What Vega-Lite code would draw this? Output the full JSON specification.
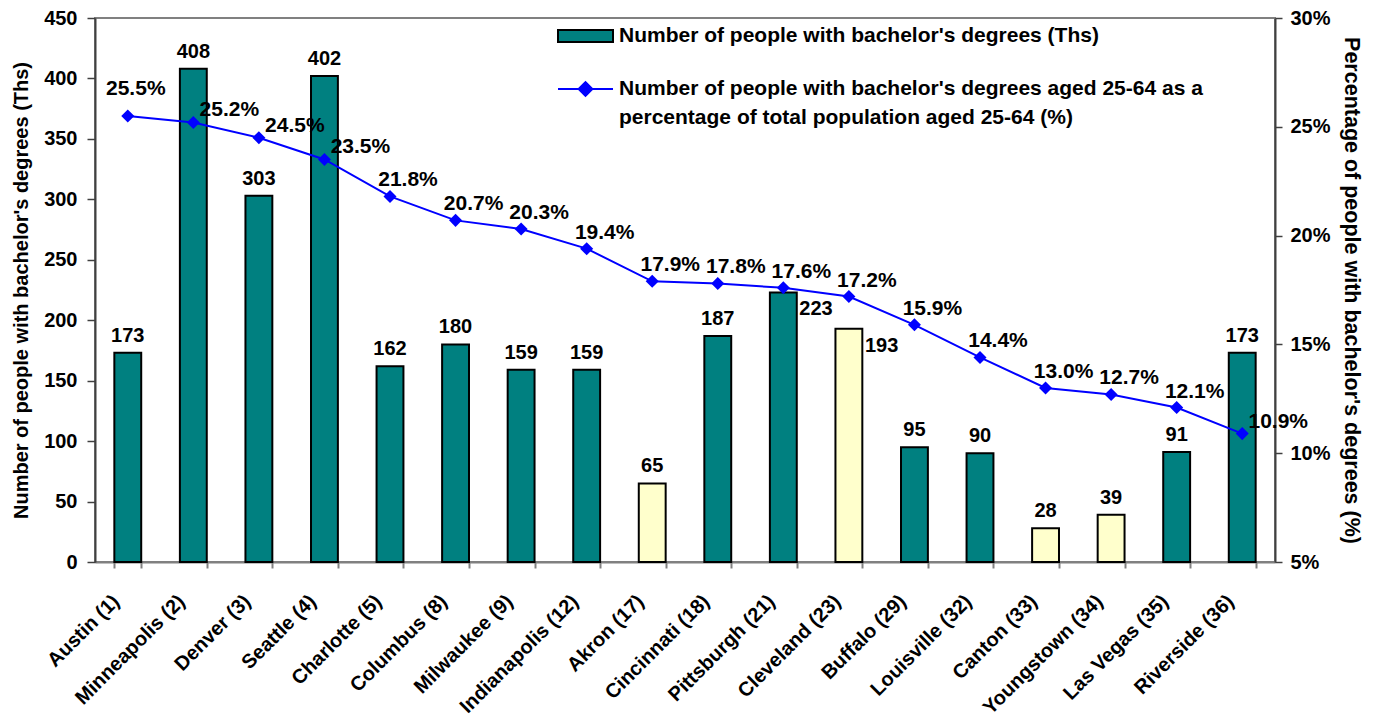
{
  "$schema": "https://vega.github.io/schema/vega-lite/v6.json",
  "width": 1180,
  "height": 544,
  "autosize": {"type": "none"},
  "padding": {"left": 95, "top": 18, "right": 100, "bottom": 157},
  "background": "white",
  "config": {
    "font": "Liberation Sans",
    "view": {"stroke": "#808080", "strokeWidth": 2},
    "axis": {
      "labelFont": "Liberation Sans",
      "labelFontWeight": "bold",
      "labelFontSize": 20,
      "labelColor": "black",
      "titleFont": "Liberation Sans",
      "titleFontWeight": "bold",
      "titleFontSize": 20,
      "titleColor": "black",
      "grid": false
    },
    "legend": {
      "labelFont": "Liberation Sans",
      "labelFontWeight": "bold",
      "labelFontSize": 21,
      "labelColor": "black",
      "labelLimit": 900,
      "padding": 0
    }
  },
  "data": {
    "values": [
      {"city": "Austin (1)", "bachelors": 173, "pct": 0.255, "highlight": "no"},
      {"city": "Minneapolis (2)", "bachelors": 408, "pct": 0.252, "highlight": "no"},
      {"city": "Denver (3)", "bachelors": 303, "pct": 0.245, "highlight": "no"},
      {"city": "Seattle (4)", "bachelors": 402, "pct": 0.235, "highlight": "no"},
      {"city": "Charlotte (5)", "bachelors": 162, "pct": 0.218, "highlight": "no"},
      {"city": "Columbus (8)", "bachelors": 180, "pct": 0.207, "highlight": "no"},
      {"city": "Milwaukee (9)", "bachelors": 159, "pct": 0.203, "highlight": "no"},
      {"city": "Indianapolis (12)", "bachelors": 159, "pct": 0.194, "highlight": "no"},
      {"city": "Akron (17)", "bachelors": 65, "pct": 0.179, "highlight": "yes"},
      {"city": "Cincinnati (18)", "bachelors": 187, "pct": 0.178, "highlight": "no"},
      {"city": "Pittsburgh (21)", "bachelors": 223, "pct": 0.176, "highlight": "no"},
      {"city": "Cleveland (23)", "bachelors": 193, "pct": 0.172, "highlight": "yes"},
      {"city": "Buffalo (29)", "bachelors": 95, "pct": 0.159, "highlight": "no"},
      {"city": "Louisville (32)", "bachelors": 90, "pct": 0.144, "highlight": "no"},
      {"city": "Canton (33)", "bachelors": 28, "pct": 0.130, "highlight": "yes"},
      {"city": "Youngstown (34)", "bachelors": 39, "pct": 0.127, "highlight": "yes"},
      {"city": "Las Vegas (35)", "bachelors": 91, "pct": 0.121, "highlight": "no"},
      {"city": "Riverside (36)", "bachelors": 173, "pct": 0.109, "highlight": "no"}
    ]
  },
  "layer": [
    {
      "layer": [
        {
          "mark": {"type": "bar", "stroke": "black", "strokeWidth": 2},
          "encoding": {
            "x": {
              "field": "city", "type": "nominal", "sort": null,
              "scale": {"paddingInner": 0.59, "paddingOuter": 0.295},
              "axis": {
                "title": null, "labelAngle": -45, "tickBand": "extent",
                "labelAlign": "right", "labelBaseline": "middle",
                "labelOffset": -12,
                "tickSize": 6, "tickColor": "#808080", "tickWidth": 2,
                "domainColor": "#808080", "domainWidth": 2,
                "labelPadding": 30, "labelLimit": 300
              }
            },
            "y": {
              "field": "bachelors", "type": "quantitative",
              "scale": {"domain": [0, 450], "nice": false},
              "axis": {
                "title": "Number of people with bachelor's degrees (Ths)",
                "values": [0, 50, 100, 150, 200, 250, 300, 350, 400, 450],
                "tickSize": 8, "tickColor": "#404040", "tickWidth": 1.5,
                "domainColor": "#404040", "domainWidth": 2,
                "labelPadding": 10, "titlePadding": 12
              }
            },
            "fill": {
              "field": "highlight", "type": "nominal",
              "scale": {"domain": ["no", "yes"], "range": ["#008080", "#FFFFCC"]},
              "legend": {
                "values": ["no"],
                "title": null,
                "orient": "none",
                "legendX": 462,
                "legendY": -10.5,
                "symbolType": "M-1,-0.22H1V0.22H-1Z",
                "symbolSize": 3025,
                "symbolStrokeColor": "black",
                "symbolStrokeWidth": 2,
                "labelOffset": 5,
                "labelExpr": "\"Number of people with bachelor's degrees (Ths)\""
              }
            }
          }
        },
        {
          "transform": [{"filter": "datum.city != 'Pittsburgh (21)' && datum.city != 'Cleveland (23)'"}],
          "mark": {"type": "text", "baseline": "bottom", "dy": -7, "fontSize": 20, "fontWeight": "bold", "color": "black"},
          "encoding": {
            "x": {"field": "city", "type": "nominal", "sort": null},
            "y": {"field": "bachelors", "type": "quantitative", "scale": {"domain": [0, 450], "nice": false}},
            "text": {"field": "bachelors", "type": "quantitative"}
          }
        },
        {
          "transform": [{"filter": "datum.city == 'Pittsburgh (21)' || datum.city == 'Cleveland (23)'"}],
          "mark": {"type": "text", "align": "left", "baseline": "top", "dx": 16, "dy": 7, "fontSize": 20, "fontWeight": "bold", "color": "black"},
          "encoding": {
            "x": {"field": "city", "type": "nominal", "sort": null},
            "y": {"field": "bachelors", "type": "quantitative", "scale": {"domain": [0, 450], "nice": false}},
            "text": {"field": "bachelors", "type": "quantitative"}
          }
        }
      ]
    },
    {
      "layer": [
        {
          "mark": {"type": "line", "strokeWidth": 2},
          "encoding": {
            "x": {"field": "city", "type": "nominal", "sort": null},
            "y": {
              "field": "pct", "type": "quantitative",
              "scale": {"domain": [0.05, 0.30], "nice": false},
              "axis": {
                "orient": "right",
                "title": "Percentage of people with bachelor's degrees (%)",
                "titleFontSize": 21.5,
                "format": ".0%",
                "values": [0.05, 0.10, 0.15, 0.20, 0.25, 0.30],
                "tickSize": 7, "tickColor": "#404040", "tickWidth": 1.5,
                "domainColor": "#404040", "domainWidth": 2,
                "labelPadding": 8, "titlePadding": 9
              }
            },
            "stroke": {
              "datum": "line",
              "scale": {"domain": ["line"], "range": ["#0000FF"]},
              "legend": {
                "title": null,
                "orient": "none",
                "legendX": 462,
                "legendY": 42.5,
                "symbolType": "M-1,0H1M-0.25,0L0,-0.25L0.25,0L0,0.25Z",
                "symbolSize": 3025,
                "symbolFillColor": "#0000FF",
                "symbolStrokeColor": "#0000FF",
                "symbolStrokeWidth": 2,
                "labelOffset": 5,
                "labelExpr": "[\"Number of people with bachelor's degrees aged 25-64 as a\", \"percentage of total population aged 25-64 (%)\"]",
                "encode": {"labels": {"update": {"lineHeight": {"value": 29}}}}
              }
            }
          }
        },
        {
          "mark": {"type": "point", "shape": "diamond", "filled": true, "size": 170, "color": "#0000FF", "opacity": 1},
          "encoding": {
            "x": {"field": "city", "type": "nominal", "sort": null},
            "y": {"field": "pct", "type": "quantitative", "scale": {"domain": [0.05, 0.30], "nice": false}}
          }
        },
        {
          "transform": [{"filter": "datum.city == 'Austin (1)'"}],
          "mark": {"type": "text", "baseline": "bottom", "dx": 8, "dy": -17, "fontSize": 21, "fontWeight": "bold", "color": "black"},
          "encoding": {
            "x": {"field": "city", "type": "nominal", "sort": null},
            "y": {"field": "pct", "type": "quantitative", "scale": {"domain": [0.05, 0.30], "nice": false}},
            "text": {"field": "pct", "type": "quantitative", "format": ".1%"}
          }
        },
        {
          "transform": [{"filter": "indexof(['Minneapolis (2)', 'Denver (3)', 'Seattle (4)', 'Riverside (36)'], datum.city) >= 0"}],
          "mark": {"type": "text", "baseline": "bottom", "dx": 36, "dy": -2, "fontSize": 21, "fontWeight": "bold", "color": "black"},
          "encoding": {
            "x": {"field": "city", "type": "nominal", "sort": null},
            "y": {"field": "pct", "type": "quantitative", "scale": {"domain": [0.05, 0.30], "nice": false}},
            "text": {"field": "pct", "type": "quantitative", "format": ".1%"}
          }
        },
        {
          "transform": [{"filter": "indexof(['Austin (1)', 'Minneapolis (2)', 'Denver (3)', 'Seattle (4)', 'Riverside (36)'], datum.city) < 0"}],
          "mark": {"type": "text", "baseline": "bottom", "dx": 18, "dy": -6, "fontSize": 21, "fontWeight": "bold", "color": "black"},
          "encoding": {
            "x": {"field": "city", "type": "nominal", "sort": null},
            "y": {"field": "pct", "type": "quantitative", "scale": {"domain": [0.05, 0.30], "nice": false}},
            "text": {"field": "pct", "type": "quantitative", "format": ".1%"}
          }
        }
      ]
    }
  ],
  "resolve": {"scale": {"y": "independent"}}
}
